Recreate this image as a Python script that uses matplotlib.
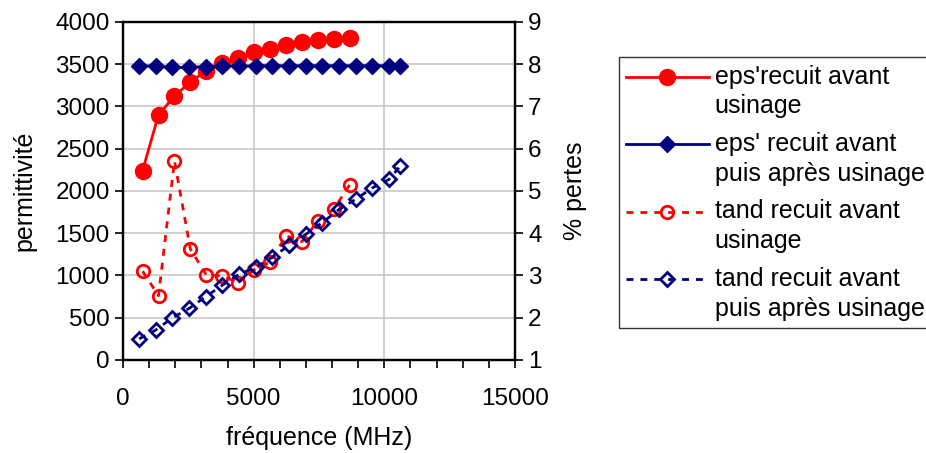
import numpy as np
import matplotlib
matplotlib.use("Agg")
import matplotlib.pyplot as plt
from matplotlib.ticker import MultipleLocator
from matplotlib.legend_handler import HandlerLine2D

plt.rcParams['font.family'] = ['Liberation Sans', 'DejaVu Sans']

# frequencies (MHz)
freq_avant = [750, 1360, 1970, 2580, 3190, 3800, 4410, 5020, 5630, 6240,
              6850, 7460, 8070, 8680]
freq_apres = [620, 1257, 1894, 2531, 3168, 3805, 4442, 5079, 5716, 6353,
              6990, 7627, 8264, 8901, 9538, 10175, 10600]

eps_avant = [2240, 2900, 3120, 3290, 3420, 3510, 3570, 3640, 3680, 3720,
             3760, 3780, 3795, 3810]
eps_apres = [3480, 3475, 3460, 3460, 3470, 3480, 3475, 3480, 3480, 3480,
             3480, 3480, 3480, 3480, 3480, 3480, 3480]

tand_avant = [3.10, 2.52, 5.71, 3.62, 3.01, 2.99, 2.83, 3.13, 3.32, 3.94,
              3.80, 4.29, 4.57, 5.15]
tand_apres = [1.50, 1.71, 2.00, 2.22, 2.50, 2.77, 3.03, 3.19, 3.43, 3.71,
              3.97, 4.25, 4.56, 4.80, 5.07, 5.27, 5.58]

labels = ["eps'recuit avant\nusinage",
          "eps' recuit avant\npuis après usinage",
          "tand recuit avant\nusinage",
          "tand recuit avant\npuis après usinage"]

RED = '#ff0000'
NAVY = '#000080'
FS = 17.5


class FirstLineHandler(HandlerLine2D):
    # put the legend symbol next to the first line of a 2-line label
    def create_artists(self, legend, orig_handle, xdescent, ydescent,
                       width, height, fontsize, trans):
        arts = super().create_artists(legend, orig_handle, xdescent, ydescent,
                                      width, height, fontsize, trans)
        for a in arts:
            a.set_ydata(np.asarray(a.get_ydata()) + 0.62 * fontsize)
        return arts


fig = plt.figure(figsize=(9.26, 4.53), dpi=100)
ax = fig.add_axes([0.1328, 0.2053, 0.4234, 0.7467])
ax2 = ax.twinx()

l1, = ax.plot(freq_avant, eps_avant, color=RED, lw=2, marker='o', ms=11.5,
              zorder=3)
l2, = ax.plot(freq_apres, eps_apres, color=NAVY, lw=2, marker='D', ms=8.5,
              zorder=3)
l3, = ax2.plot(freq_avant, tand_avant, color=RED, lw=2, ls=(0, (2.5, 2.5)),
               marker='o', ms=9, mfc='none', mew=2)
l4, = ax2.plot(freq_apres, tand_apres, color=NAVY, lw=2, ls=(0, (2.5, 2.5)),
               marker='D', ms=7.5, mfc='none', mew=2)

ax.set_xlim(0, 15000)
ax.set_ylim(0, 4000)
ax2.set_ylim(1, 9)
ax.xaxis.set_major_locator(MultipleLocator(5000))
ax.xaxis.set_minor_locator(MultipleLocator(1000))
ax.yaxis.set_major_locator(MultipleLocator(500))
ax2.yaxis.set_major_locator(MultipleLocator(1))

ax.grid(True, which='major', color='#c8c8c8', lw=1.2)
ax.set_axisbelow(True)

for a in (ax, ax2):
    for s in a.spines.values():
        s.set_linewidth(1.6)
    a.tick_params(which='both', direction='out', length=6, width=1.2,
                  labelsize=FS)
ax.tick_params(axis='x', which='minor', length=6, width=1.2)
ax.tick_params(axis='x', which='major', pad=14)

ax.set_xlabel('fréquence (MHz)', fontsize=18, labelpad=12)
ax.set_ylabel('permittivité', fontsize=18, labelpad=14)
ax2.set_ylabel('% pertes', fontsize=18, labelpad=15)

h = FirstLineHandler()
leg = fig.legend([l1, l2, l3, l4], labels, loc='upper left',
                 bbox_to_anchor=(0.668, 0.874), fontsize=18,
                 frameon=True, fancybox=False, edgecolor='black',
                 handlelength=3.3, handletextpad=0.25, labelspacing=0.55,
                 borderpad=0.3, borderaxespad=0,
                 handler_map={l1: h, l2: h, l3: h, l4: h})
leg.get_frame().set_linewidth(1.0)
for t in leg.get_texts():
    t.set_linespacing(1.3)

fig.savefig('out.png', dpi=100)
